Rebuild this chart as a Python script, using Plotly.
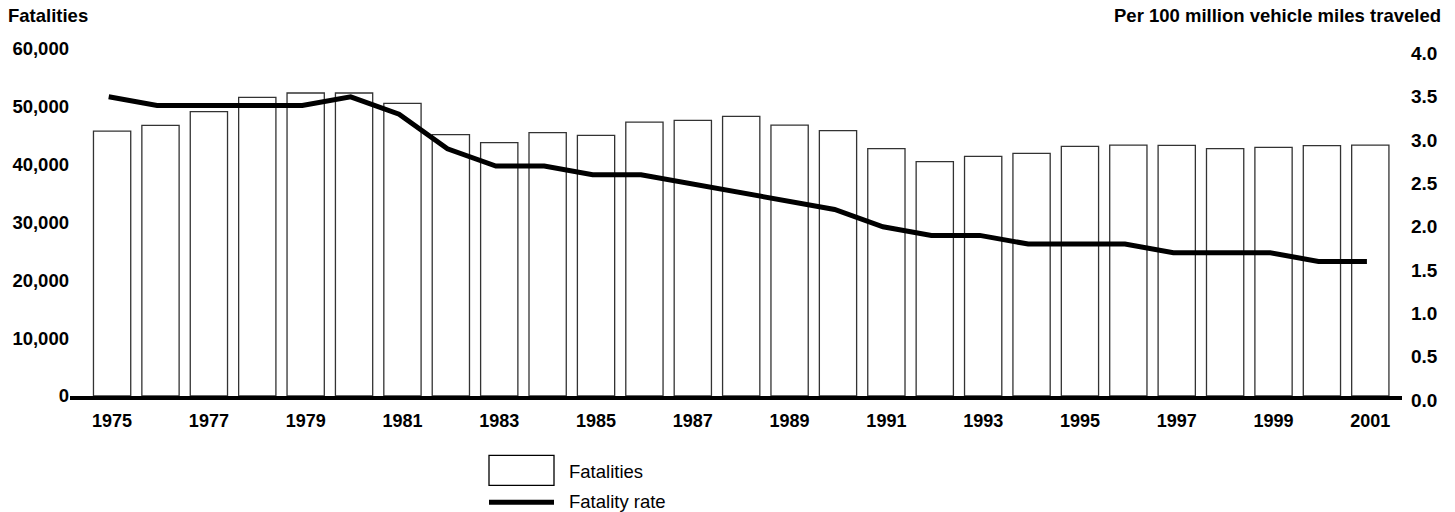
import plotly.graph_objects as go

years = list(range(1975, 2002))
fatalities = [45810, 46800, 49170, 51640, 52390, 52390, 50610, 45190, 43810, 45540,
              45070, 47370, 47660, 48360, 46850, 45880, 42770, 40520, 41440, 41960,
              43170, 43390, 43340, 42770, 42990, 43290, 43390]
fatality_rate = [3.5, 3.4, 3.4, 3.4, 3.4, 3.5, 3.3, 2.9, 2.7, 2.7,
                 2.6, 2.6, 2.5, 2.4, 2.3, 2.2, 2.0, 1.9, 1.9, 1.8,
                 1.8, 1.8, 1.7, 1.7, 1.7, 1.6, 1.6]
left_ticks = [0, 10000, 20000, 30000, 40000, 50000, 60000]
left_labels = ["0", "10,000", "20,000", "30,000", "40,000", "50,000", "60,000"]
right_ticks = [0, 0.5, 1.0, 1.5, 2.0, 2.5, 3.0, 3.5, 4.0]
right_labels = ["0.0", "0.5", "1.0", "1.5", "2.0", "2.5", "3.0", "3.5", "4.0"]
year_ticks = years[::2]

FONT = "Liberation Sans, Arial, Helvetica, sans-serif"
W, H = 1455, 512
L, R, T, B = 70, 53, 49, 111.5
pw, ph = W - L - R, H - T - B
XR = [1974.13, 2001.655]
LINE_SHIFT = 0.07

fig = go.Figure()
fig.add_trace(go.Bar(
    x=years, y=fatalities, name="Fatalities", width=0.77,
    xaxis="x", yaxis="y",
    marker=dict(color="white", line=dict(color="#333333", width=1.3)),
))
fig.add_trace(go.Scatter(
    x=years, y=fatality_rate, name="Fatality rate", xaxis="x2", yaxis="y2", mode="lines",
    line=dict(color="black", width=5),
))

fig.update_layout(
    width=W, height=H,
    margin=dict(l=L, r=R, t=T, b=B),
    paper_bgcolor="white", plot_bgcolor="rgba(0,0,0,0)",
    showlegend=False,
    font=dict(family=FONT, color="black"),
    xaxis=dict(
        domain=[0, 1], range=XR, tickmode="array", tickvals=year_ticks, anchor="y",
        ticktext=[str(y) for y in year_ticks], showgrid=False, zeroline=False,
        showline=True, linecolor="black", linewidth=4, ticks="",
        tickfont=dict(family=FONT, size=18, weight="bold"), ticklabelstandoff=5,
    ),
    xaxis2=dict(
        domain=[0, 1], range=[XR[0] + LINE_SHIFT, XR[1] + LINE_SHIFT], anchor="y2",
        showgrid=False, zeroline=False, showline=False, showticklabels=False, ticks="",
    ),
    yaxis=dict(
        domain=[4 / ph, 1], anchor="x",
        range=[0, 60000], tickmode="array", tickvals=left_ticks, ticktext=left_labels,
        showgrid=False, zeroline=False, showline=False, ticks="",
        tickfont=dict(family=FONT, size=18.5, weight="bold"), ticklabelstandoff=0,
    ),
    yaxis2=dict(
        domain=[0, 1 - 4.5 / ph], anchor="x2", side="right",
        range=[0, 4.0], tickmode="array",
        tickvals=right_ticks, ticktext=right_labels, showgrid=False, zeroline=False,
        showline=False, ticks="", tickfont=dict(family=FONT, size=19, weight="bold"),
        ticklabelstandoff=8,
    ),
)

# Axis titles
fig.add_annotation(text="<b>Fatalities</b>", xref="paper", yref="paper", x=0, y=1,
                   xanchor="left", yanchor="middle", xshift=-64, yshift=T - 15,
                   showarrow=False, font=dict(family=FONT, size=18.5, color="black"))
fig.add_annotation(text="<b>Per 100 million vehicle miles traveled</b>", xref="paper", yref="paper",
                   x=1, y=1, xanchor="right", yanchor="middle", xshift=41, yshift=T - 15,
                   showarrow=False, font=dict(family=FONT, size=18.5, color="black"))

# Custom legend (positions in pixels converted to paper fractions)
def px(xp):
    return (xp - L) / pw
def py(yp):
    return (H - B - yp) / ph

fig.add_shape(type="rect", xref="paper", yref="paper", x0=px(489), x1=px(554),
              y0=py(486), y1=py(456), line=dict(color="black", width=1.3), fillcolor="white")
fig.add_shape(type="line", xref="paper", yref="paper", x0=px(489), x1=px(554),
              y0=py(503), y1=py(503), line=dict(color="black", width=5))
fig.add_annotation(text="Fatalities", xref="paper", yref="paper", x=px(567), y=py(472),
                   xanchor="left", yanchor="middle", showarrow=False,
                   font=dict(family=FONT, size=18.5, color="black"))
fig.add_annotation(text="Fatality rate", xref="paper", yref="paper", x=px(567), y=py(502),
                   xanchor="left", yanchor="middle", showarrow=False,
                   font=dict(family=FONT, size=18.5, color="black"))

fig.write_html("out.html", post_script="document.body.style.margin='0';",
               config={"displayModeBar": False})
